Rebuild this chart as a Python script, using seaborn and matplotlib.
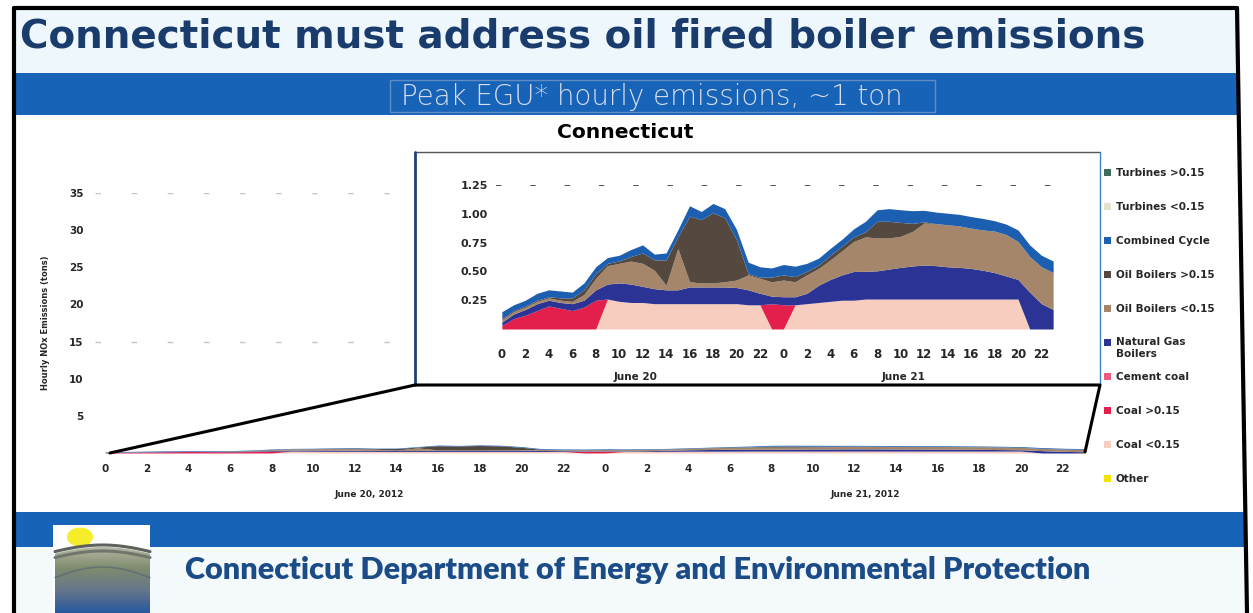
import numpy as np
import matplotlib
matplotlib.use("Agg")
import matplotlib.pyplot as plt
import seaborn as sns
from matplotlib.patches import Rectangle, Ellipse, Polygon
from matplotlib.colors import LinearSegmentedColormap

sns.set_theme(style="white")
plt.rcParams['font.family'] = ['DejaVu Sans']

# ---- data (tons of NOx per hour, June 20-21 2012) ----
hours = np.arange(48)
tick_hours = list(range(0, 48, 2))
tick_labels = [str(h % 24) for h in tick_hours]

other = [0.0] * 48
coal_lo = [0, 0, 0, 0, 0, 0, 0, 0, 0, 0.26, 0.24, 0.23, 0.23, 0.22, 0.22, 0.22,
           0.22, 0.22, 0.22, 0.22, 0.22, 0.21, 0.21, 0, 0, 0.21, 0.22, 0.23, 0.24, 0.25, 0.25, 0.26,
           0.26, 0.26, 0.26, 0.26, 0.26, 0.26, 0.26, 0.26, 0.26, 0.26, 0.26, 0.26, 0.26, 0, 0, 0]
coal_hi = [0.03, 0.09, 0.12, 0.16, 0.20, 0.18, 0.16, 0.19, 0.25, 0, 0, 0, 0, 0, 0, 0,
           0, 0, 0, 0, 0, 0, 0, 0.22, 0.21, 0, 0, 0, 0, 0, 0, 0,
           0, 0, 0, 0, 0, 0, 0, 0, 0, 0, 0, 0, 0, 0, 0, 0]
cement = [0.0] * 48
nat_gas = [0.03, 0.04, 0.05, 0.06, 0.05, 0.05, 0.06, 0.06, 0.09, 0.13, 0.16, 0.16, 0.14, 0.13, 0.12, 0.12,
           0.145, 0.145, 0.145, 0.145, 0.14, 0.13, 0.10, 0.065, 0.07, 0.07, 0.09, 0.15, 0.19, 0.22, 0.25, 0.24,
           0.245, 0.26, 0.275, 0.287, 0.295, 0.29, 0.28, 0.275, 0.266, 0.25, 0.23, 0.20, 0.17, 0.32, 0.22, 0.17]
oil_lo = [0.02, 0.02, 0.02, 0.02, 0.02, 0.02, 0.02, 0.05, 0.10, 0.16, 0.17, 0.20, 0.20, 0.16, 0.04, 0.36,
          0.045, 0.035, 0.035, 0.045, 0.065, 0.13, 0.13, 0.125, 0.145, 0.13, 0.16, 0.145, 0.17, 0.21, 0.26, 0.30,
          0.285, 0.27, 0.27, 0.30, 0.365, 0.365, 0.365, 0.36, 0.35, 0.35, 0.36, 0.36, 0.33, 0.31, 0.32, 0.32]
oil_hi = [0.01, 0.01, 0.01, 0.01, 0.01, 0.02, 0.03, 0.04, 0.04, 0.02, 0.02, 0.04, 0.09, 0.09, 0.22, 0.10,
          0.57, 0.55, 0.61, 0.555, 0.35, 0.01, 0.01, 0.04, 0.045, 0.045, 0.03, 0.03, 0.04, 0.04, 0.04, 0.045,
          0.145, 0.145, 0.12, 0.07, 0.01, 0, 0, 0, 0, 0, 0, 0, 0, 0, 0, 0]
comb_cycle = [0.06, 0.05, 0.05, 0.06, 0.06, 0.06, 0.05, 0.06, 0.06, 0.05, 0.05, 0.06, 0.07, 0.05, 0.06, 0.06,
              0.09, 0.07, 0.08, 0.08, 0.09, 0.10, 0.09, 0.08, 0.09, 0.09, 0.07, 0.06, 0.06, 0.06, 0.07, 0.09,
              0.10, 0.11, 0.11, 0.11, 0.10, 0.10, 0.10, 0.10, 0.10, 0.10, 0.09, 0.09, 0.10, 0.10, 0.10, 0.10]
turb_lo = [0.0] * 48
turb_hi = [0.0] * 48

# stacking order bottom -> top
series = [other, coal_lo, coal_hi, cement, nat_gas, oil_lo, oil_hi, comb_cycle, turb_lo, turb_hi]
names = ["Other", "Coal <0.15", "Coal >0.15", "Cement coal", "Natural Gas\nBoilers",
         "Oil Boilers <0.15", "Oil Boilers >0.15", "Combined Cycle", "Turbines <0.15", "Turbines >0.15"]
colors = sns.color_palette(["#f2e400", "#f6cdbf", "#e3204c", "#f0587c", "#2b3395",
                            "#a5866a", "#55493f", "#1c5fb1", "#e4e2cc", "#3f6a5e"])

W, H = 1253, 613
fig = plt.figure(figsize=(W / 100, H / 100), dpi=100)


def px_box(x0, y0, x1, y1):
    return [x0 / W, 1 - y1 / H, (x1 - x0) / W, (y1 - y0) / H]


def fit_text(ax, x, y, s, width, **kw):
    t = ax.text(x, y, s, **kw)
    fig.canvas.draw()
    w = t.get_window_extent().width
    t.set_fontsize(t.get_fontsize() * width / w)
    return t


# ---- slide background ----
bg = fig.add_axes([0, 0, 1, 1], zorder=0)
bg.set_xlim(0, W)
bg.set_ylim(H, 0)
bg.axis("off")
bg.add_patch(Rectangle((14, 8), 1226, 66, color="#eef7fb", lw=0))
bg.add_patch(Rectangle((14, 547), 1230, 70, color="#f4f9fc", lw=0))
bg.add_patch(Rectangle((14, 73), 1224, 42, color="#1763b8", lw=0))
bg.add_patch(Rectangle((14, 512), 1230, 35, color="#1763b8", lw=0))
bg.add_patch(Rectangle((390, 80), 545, 32, fill=False, ec="#5f8cc4", lw=1))
fit_text(bg, 652, 97, "Peak EGU* hourly emissions, ~1 ton", 500, color="#d9dee8",
         weight="light", fontsize=12, ha="center", va="center")
fit_text(bg, 20, 37, "Connecticut must address oil fired boiler emissions", 1128, color="#1a3c6c",
         weight="bold", fontsize=24, ha="left", va="center")
fit_text(bg, 625, 133, "Connecticut", 136, color="black", weight="bold", fontsize=11,
         ha="center", va="center")
fit_text(bg, 185, 570, "Connecticut Department of Energy and Environmental Protection", 905,
         color="#1b4c88", family=["Lato", "DejaVu Sans"], weight="heavy", fontsize=20,
         ha="left", va="center")

# logo
bg.add_patch(Rectangle((53, 525), 97, 90, color="white", lw=0))
bg.add_patch(Ellipse((80, 537), 26, 19, color="#f6ee2a", lw=0))
xs = np.linspace(55, 150, 60)
top = 556 - 9 * np.sin((xs - 45) / 115 * np.pi)
hill = Polygon(np.column_stack([np.r_[xs, 150, 55], np.r_[top, 613, 613]]), closed=True,
               fc="none", ec="none")
bg.add_patch(hill)
grad = np.linspace(0, 1, 100).reshape(-1, 1)
cmap = LinearSegmentedColormap.from_list("logo", ["#b9bca9", "#7f8c6e", "#66768a", "#27599f"])
im = bg.imshow(grad, cmap=cmap, extent=(55, 150, 613, 545), aspect="auto", zorder=1)
im.set_clip_path(hill)
for off, c in [(0, "#5d625c"), (6, "#70766b")]:
    bg.plot(xs, top - 2 + off, color=c, lw=2.2, zorder=2)
bg.plot(xs, top + 24 - 4 * np.sin((xs - 55) / 30), color="#4b5c74", lw=1.2, alpha=0.5, zorder=2)

# slide border
bg.plot([14, 14], [8, 613], color="black", lw=3)
bg.plot([14, 1237], [8, 8], color="black", lw=3)
bg.plot([1237, 1247], [8, 613], color="black", lw=3)

# ---- main chart (0-35 tons) ----
ax = fig.add_axes(px_box(94.6, 193, 1094, 453), zorder=1)
ax.set_facecolor("none")
ax.stackplot(hours, *series, colors=colors, lw=0)
ax.set_xlim(-0.5, 47.5)
ax.set_ylim(0, 35)
ax.set_yticks([5, 10, 15, 20, 25, 30, 35])
ax.set_xticks(tick_hours)
ax.set_xticklabels(tick_labels)
ax.tick_params(axis="both", length=0, labelsize=7.5, pad=8)
for lab in ax.get_xticklabels() + ax.get_yticklabels():
    lab.set_fontweight("bold")
for y in (35, 15):
    ax.axhline(y, color="#c4c4c4", lw=1, dashes=(4, 22))
sns.despine(ax=ax, left=True, bottom=True)
ax.set_ylabel("Hourly NOx Emissions (tons)", fontsize=6, fontweight="bold", labelpad=14)
trans = ax.get_xaxis_transform()
ax.text(12.7, -0.16, "June 20, 2012", transform=trans, fontsize=6.5, fontweight="bold",
        ha="center", va="center")
ax.text(36.5, -0.16, "June 21, 2012", transform=trans, fontsize=6.5, fontweight="bold",
        ha="center", va="center")

# ---- zoom box + connectors ----
fg = fig.add_axes([0, 0, 1, 1], zorder=2)
fg.set_xlim(0, W)
fg.set_ylim(H, 0)
fg.axis("off")
fg.patch.set_alpha(0)
fg.add_patch(Rectangle((415, 152), 685, 233, color="white", lw=0))
fg.plot([415, 1100], [152, 152], color="#555555", lw=1)
fg.plot([415, 415], [152, 385], color="#1f3f7a", lw=2)
fg.plot([1100, 1100], [152, 385], color="#3b7fd0", lw=1)
fg.plot([110, 415, 1100, 1085], [453, 385, 385, 452], color="black", lw=2.2)

# legend (top entry first, as in the source chart)
for i, (nm, c) in enumerate(zip(names[::-1], colors[::-1])):
    y = 172 + i * 34
    fg.add_patch(Rectangle((1104, y - 3), 7, 7, color=c, lw=0))
    two_line = "\n" in nm
    fg.text(1116, y - 5 if two_line else y + 0.5, nm, fontsize=7.5, fontweight="bold",
            ha="left", va="top" if two_line else "center", linespacing=1.3)

# ---- inset (0-1.25 tons) ----
axi = fig.add_axes(px_box(496, 185, 1059, 329), zorder=3)
axi.set_facecolor("none")
axi.stackplot(hours, *series, colors=colors, lw=0)
axi.set_xlim(-0.5, 47.5)
axi.set_ylim(0, 1.25)
axi.set_yticks([0.25, 0.5, 0.75, 1.0, 1.25])
axi.set_yticklabels(["0.25", "0.50", "0.75", "1.00", "1.25"])
axi.set_xticks(tick_hours)
axi.set_xticklabels(tick_labels)
axi.tick_params(axis="x", length=0, labelsize=8.5, pad=14)
axi.tick_params(axis="y", length=0, labelsize=8, pad=6)
for lab in axi.get_xticklabels() + axi.get_yticklabels():
    lab.set_fontweight("bold")
axi.axhline(1.25, color="#444444", lw=1.3, dashes=(3, 16))
sns.despine(ax=axi, left=True, bottom=True)
trans_i = axi.get_xaxis_transform()
axi.text(11.4, -0.33, "June 20", transform=trans_i, fontsize=7.5, fontweight="bold",
         ha="center", va="center")
axi.text(34.2, -0.33, "June 21", transform=trans_i, fontsize=7.5, fontweight="bold",
         ha="center", va="center")

fig.savefig("out.png", dpi=100)
